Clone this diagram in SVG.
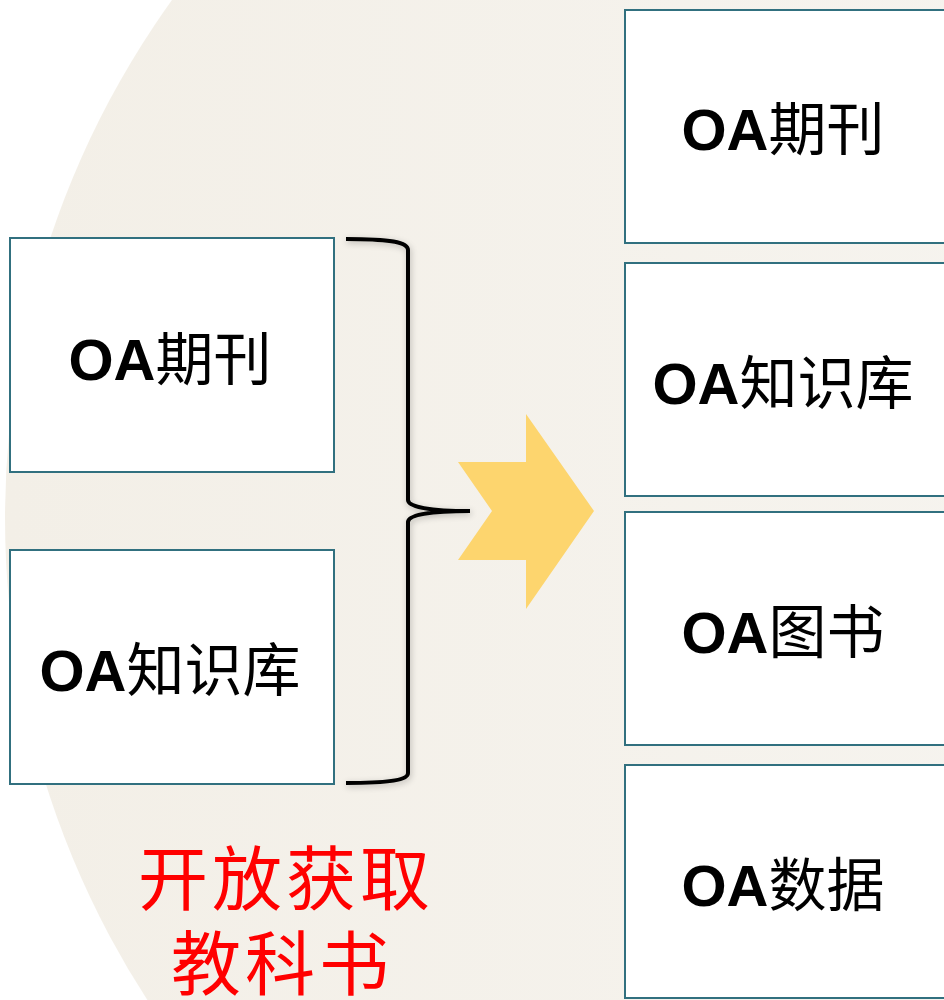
<svg xmlns="http://www.w3.org/2000/svg" width="944" height="1000" viewBox="0 0 944 1000">
  <defs>
    <linearGradient id="bg" x1="0" y1="0" x2="1" y2="0">
      <stop offset="0" stop-color="#F3EFE7"/>
      <stop offset="1" stop-color="#F8F7F4"/>
    </linearGradient>
    <filter id="sh" x="-20%" y="-5%" width="140%" height="110%">
      <feGaussianBlur in="SourceAlpha" stdDeviation="3"/>
      <feOffset dx="1" dy="2" result="b"/>
      <feFlood flood-color="#000" flood-opacity="0.25"/>
      <feComposite in2="b" operator="in"/>
      <feMerge><feMergeNode/><feMergeNode in="SourceGraphic"/></feMerge>
    </filter>
  </defs>
  <style>
    .box { fill: #FFFFFF; stroke: #31707F; stroke-width: 2; }
    .lbl { font-family: "Noto Sans CJK SC", "Liberation Sans", sans-serif; font-size: 58px; fill: #000; text-anchor: middle; }
    .oa { font-family: "Liberation Sans", "Noto Sans CJK SC", sans-serif; font-weight: bold; }
    .red { font-family: "Noto Sans CJK SC", sans-serif; font-size: 70px; fill: #FF0000; text-anchor: middle; letter-spacing: 4px; }
  </style>
  <rect width="944" height="1000" fill="#FFFFFF"/>
  <circle cx="892" cy="518" r="887" fill="url(#bg)"/>

  <g id="left-oa-journal">
    <rect class="box" x="10" y="238" width="324" height="234"/>
    <text class="lbl" x="170" y="380"><tspan class="oa">OA</tspan>期刊</text>
  </g>
  <g id="left-oa-repo">
    <rect class="box" x="10" y="550" width="324" height="234"/>
    <text class="lbl" x="170" y="691"><tspan class="oa">OA</tspan>知识库</text>
  </g>

  <g id="right-oa-journal">
    <rect class="box" x="625" y="10" width="322" height="233"/>
    <text class="lbl" x="783" y="150"><tspan class="oa">OA</tspan>期刊</text>
  </g>
  <g id="right-oa-repo">
    <rect class="box" x="625" y="263" width="322" height="233"/>
    <text class="lbl" x="783" y="404"><tspan class="oa">OA</tspan>知识库</text>
  </g>
  <g id="right-oa-book">
    <rect class="box" x="625" y="512" width="322" height="233"/>
    <text class="lbl" x="783" y="653"><tspan class="oa">OA</tspan>图书</text>
  </g>
  <g id="right-oa-data">
    <rect class="box" x="625" y="765" width="322" height="233"/>
    <text class="lbl" x="783" y="906"><tspan class="oa">OA</tspan>数据</text>
  </g>

  <g id="caption">
    <text class="red" x="286" y="905">开放获取</text>
    <text class="red" x="282" y="990">教科书</text>
  </g>

  <g id="connectors">
    <path d="M346,239 C390,239 408,242 408,250 L408,500 C408,507 430,511 470,511 C430,511 408,515 408,522 L408,773 C408,780 390,783 346,783" fill="none" stroke="#000" stroke-width="4" filter="url(#sh)"/>
    <polygon points="458,462 526,462 526,414 594,511 526,609 526,560 458,560 492,511" fill="#FDD56E"/>
  </g>
</svg>
